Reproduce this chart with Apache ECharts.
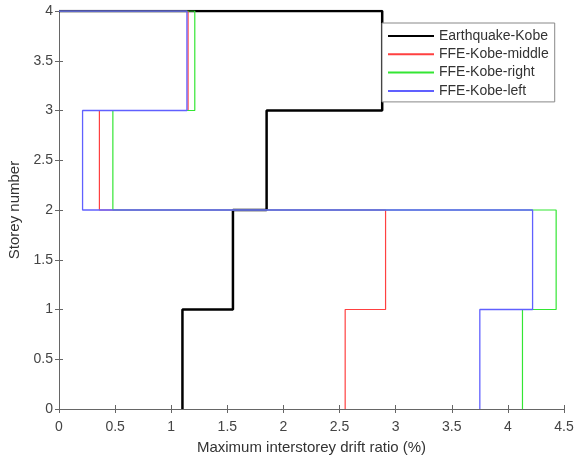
<!DOCTYPE html>
<html>
<head>
<meta charset="utf-8">
<script src="https://cdn.jsdelivr.net/npm/echarts@6/dist/echarts.min.js"></script>
<style>
  html, body { margin: 0; padding: 0; background: #fff; }
  #main { width: 574px; height: 459px; }
</style>
</head>
<body>
<div id="main"></div>
<script>
// drift ratio (%) for storeys 1..4
var storeys = [0, 1, 2, 3, 4];
var kobeDrift = [1.10, 1.55, 1.85, 2.88];
var middleDrift = [2.55, 2.91, 0.36, 1.15];
var rightDrift = [4.13, 4.43, 0.48, 1.21];
var leftDrift = [3.75, 4.22, 0.21, 1.14];
var xTicks = [0, 0.5, 1, 1.5, 2, 2.5, 3, 3.5, 4, 4.5];

// stairs: each storey drawn as vertical segment, then back to 0 at roof
function stairs(d) {
  var pts = [];
  for (var i = 0; i < d.length; i++) {
    pts.push([d[i], storeys[i]]);
    pts.push([d[i], storeys[i + 1]]);
  }
  pts.push([0, storeys[storeys.length - 1]]);
  return pts;
}

var axisCol = '#666';
var textCol = '#333';
var font = 'Liberation Sans, Arial, sans-serif';

function lineSeries(name, d, color, w) {
  return {
    name: name, type: 'line', data: stairs(d),
    symbol: 'none', animation: false,
    lineStyle: { color: color, width: w },
    itemStyle: { color: color }
  };
}

var myChart = echarts.init(document.getElementById('main'));
myChart.setOption({
  animation: false,
  grid: { left: 59, right: 10, top: 11, bottom: 50, outerBoundsMode: 'none', containLabel: false },
  legend: {
    orient: 'vertical', left: 382, top: 23,
    padding: [6, 6, 4, 5], itemGap: 4.3,
    itemWidth: 46, itemHeight: 14,
    borderColor: '#888', borderWidth: 1,
    backgroundColor: '#fff',
    itemStyle: { opacity: 0 },
    textStyle: { fontFamily: font, fontSize: 14, color: textCol },
    data: ['Earthquake-Kobe', 'FFE-Kobe-middle', 'FFE-Kobe-right', 'FFE-Kobe-left']
  },
  xAxis: [{
    type: 'value', min: 0, max: 4.5, interval: 0.5,
    name: 'Maximum interstorey drift ratio (%)', nameLocation: 'middle', nameGap: 31,
    nameTextStyle: { fontFamily: font, fontSize: 15, color: textCol },
    axisLine: { lineStyle: { color: axisCol } },
    axisTick: { inside: true, length: 4, lineStyle: { color: axisCol } },
    axisLabel: { fontFamily: font, fontSize: 14, color: '#444', margin: 11,
      formatter: function (v) { return xTicks.indexOf(v) >= 0 ? String(v) : ''; } },
    splitLine: { show: false }
  }, {
    type: 'value', position: 'top', min: 0, max: 4.5, interval: 0.5,
    axisLine: { show: true, lineStyle: { color: axisCol } },
    axisTick: { inside: true, length: 4, lineStyle: { color: axisCol } },
    axisLabel: { show: false }, splitLine: { show: false }
  }],
  yAxis: [{
    type: 'value', min: 0, max: 4, interval: 0.5,
    name: 'Storey number', nameLocation: 'middle', nameGap: 30,
    nameTextStyle: { fontFamily: font, fontSize: 15, color: textCol },
    axisLine: { show: true, lineStyle: { color: axisCol } },
    axisTick: { show: true, inside: true, length: 4, lineStyle: { color: axisCol } },
    axisLabel: { fontFamily: font, fontSize: 14, color: '#444', margin: 6 },
    splitLine: { show: false }
  }, {
    type: 'value', position: 'right', min: 0, max: 4, interval: 0.5,
    axisLine: { show: true, lineStyle: { color: axisCol } },
    axisTick: { show: true, inside: true, length: 4, lineStyle: { color: axisCol } },
    axisLabel: { show: false }, splitLine: { show: false }
  }],
  series: [
    lineSeries('Earthquake-Kobe', kobeDrift, '#000', 2.5),
    lineSeries('FFE-Kobe-middle', middleDrift, '#ff4040', 1.2),
    lineSeries('FFE-Kobe-right', rightDrift, '#33e633', 1.2),
    lineSeries('FFE-Kobe-left', leftDrift, '#6060ff', 1.3)
  ]
});
</script>
</body>
</html>
